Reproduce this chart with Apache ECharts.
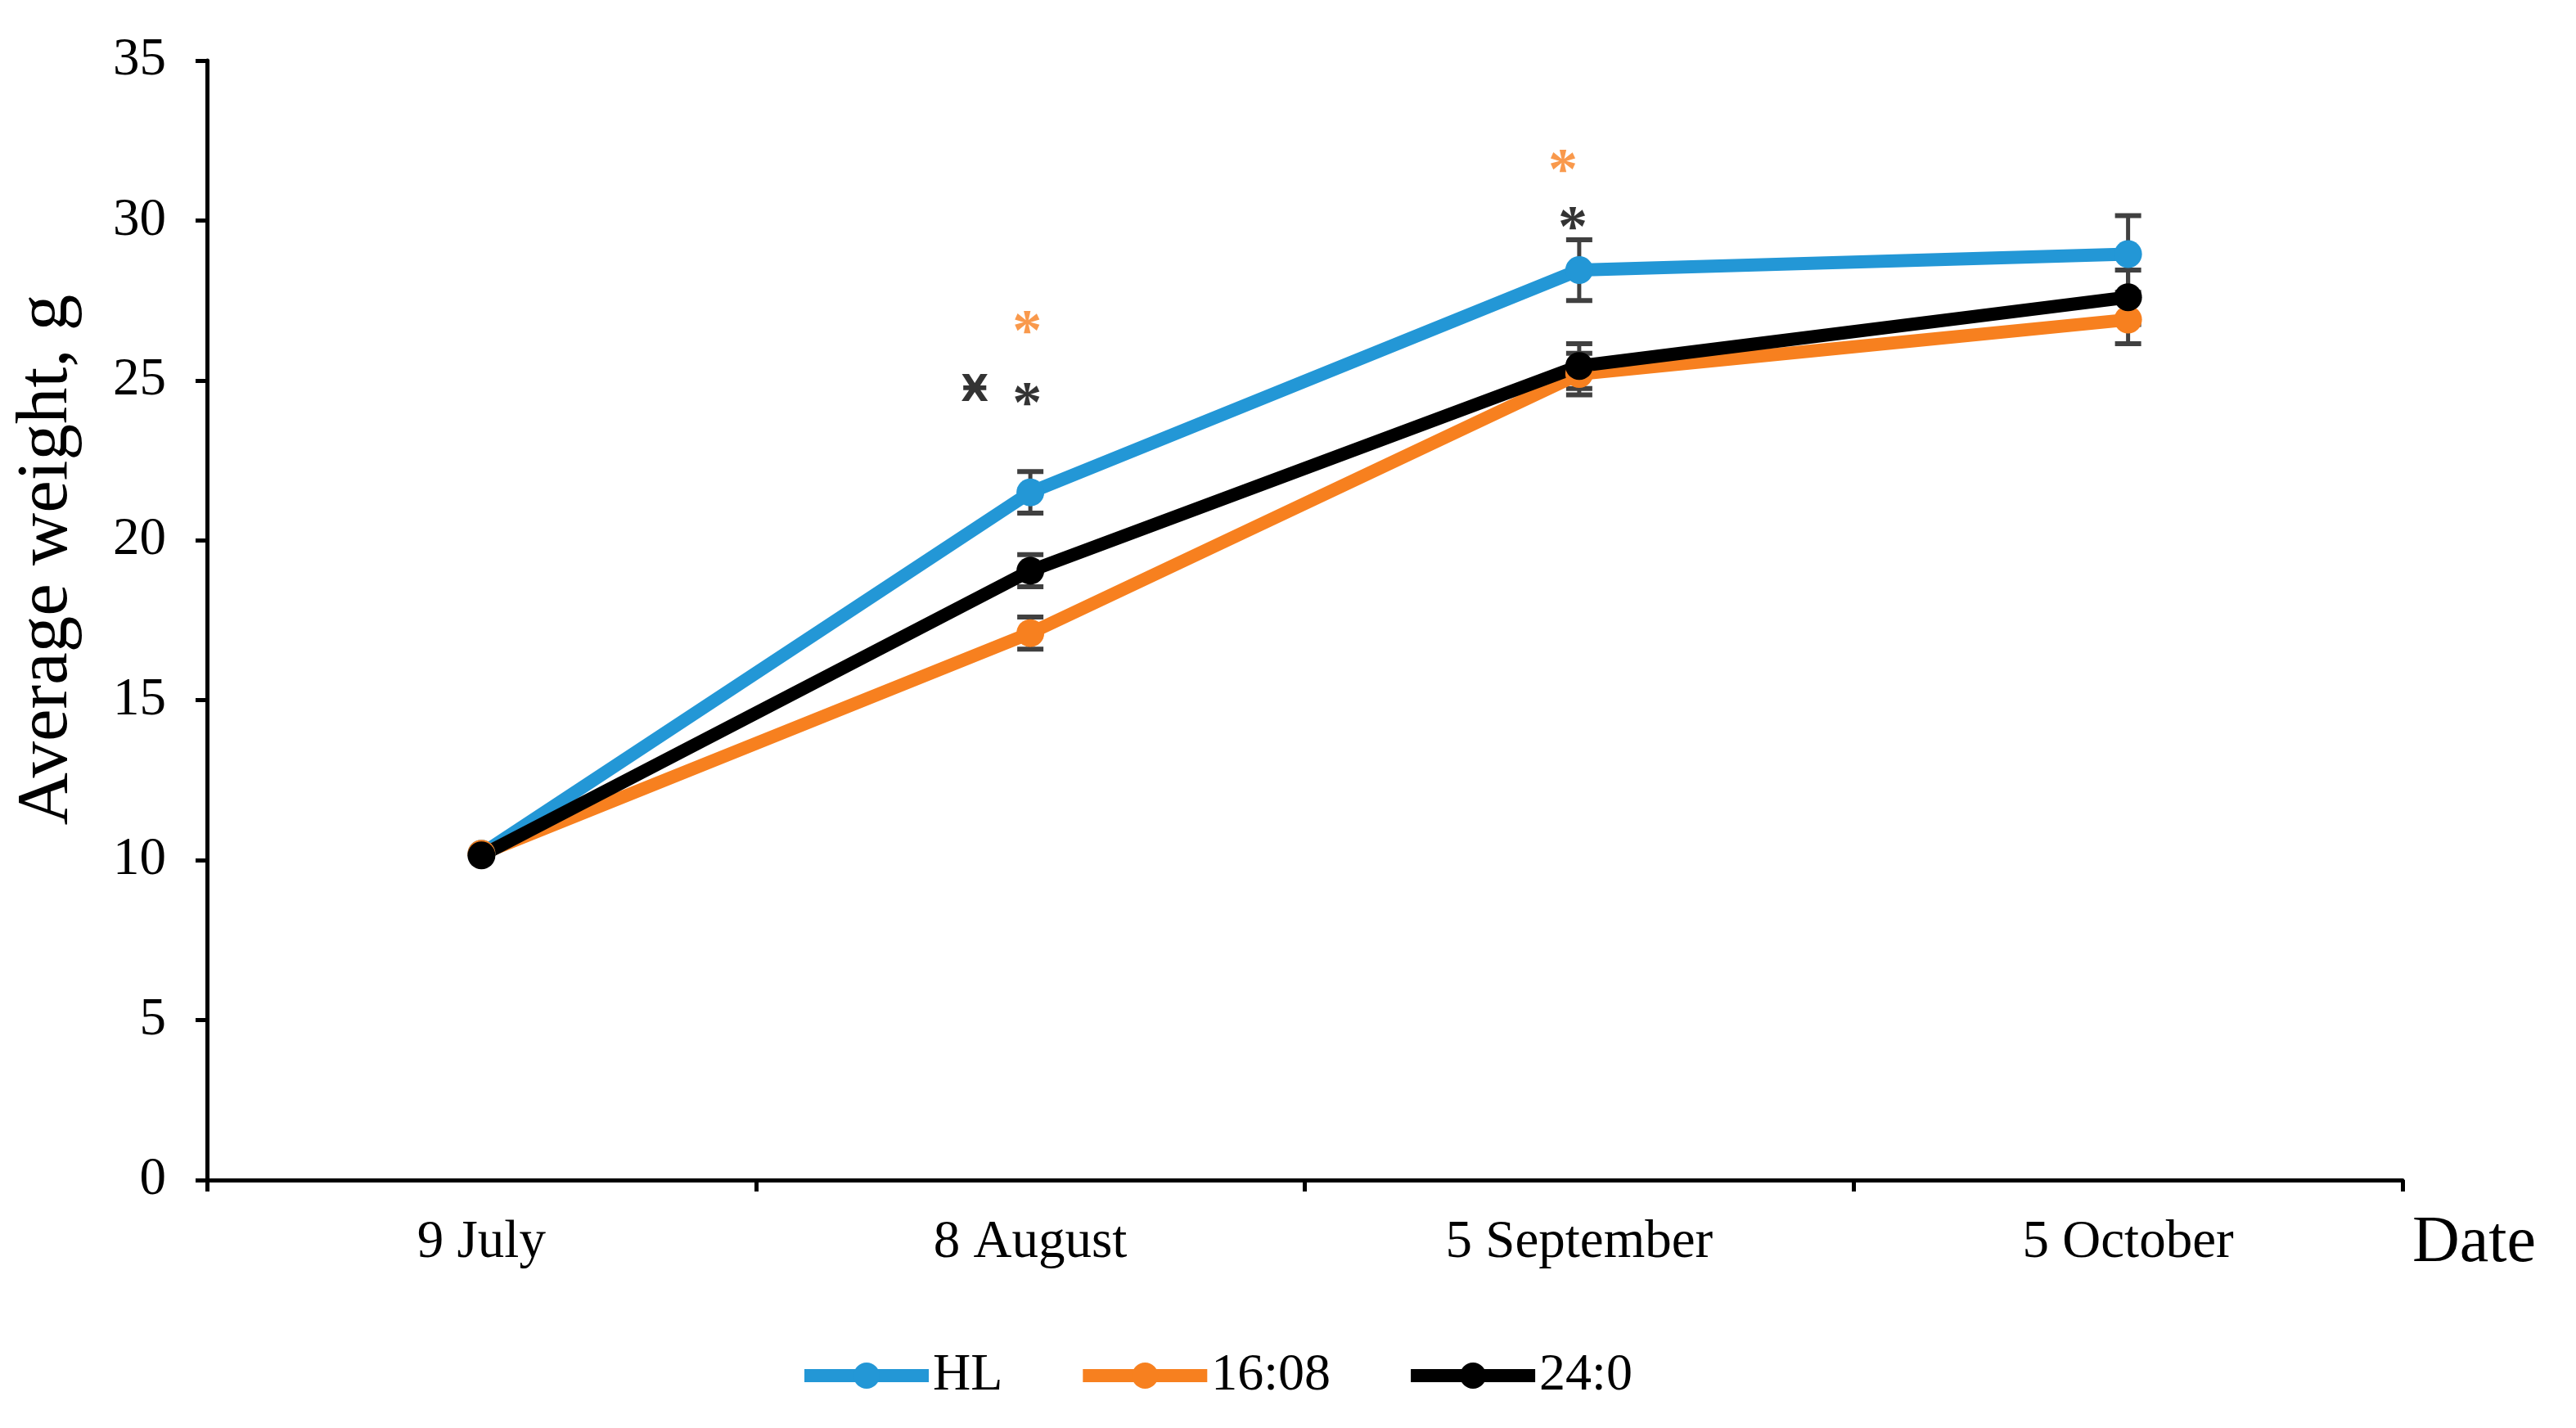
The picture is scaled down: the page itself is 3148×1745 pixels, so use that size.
<!DOCTYPE html>
<html>
<head>
<meta charset="utf-8">
<script src="https://cdn.jsdelivr.net/npm/echarts@6/dist/echarts.min.js"></script>
<style>
html,body{margin:0;padding:0;background:#fff;}
#c{width:3148px;height:1745px;}
</style>
</head>
<body>
<div id="c"></div>
<script>
const categories = ['9 July', '8 August', '5 September', '5 October'];
const yTicks = [0, 5, 10, 15, 20, 25, 30, 35];
const seriesNames = ['HL', '16:08', '24:0'];
const hlValues = [10.2, 21.5, 28.45, 28.95];
const v1608Values = [10.2, 17.1, 25.2, 26.9];
const v240Values = [10.15, 19.05, 25.45, 27.6];
const hlErrors = [0, 0.65, 0.95, 1.2];
const v1608Errors = [0, 0.5, 0.65, 0.75];
const v240Errors = [0, 0.5, 0.7, 0.85];
const annotCats = ['8 August', '8 August', '8 August', '5 September', '5 September'];
const annotValues = [26.8, 24.55, 24.65, 31.85, 30.05];
const annotTexts = ['*', '*', 'Ӿ', '*', '*'];
const annotGroup = ['16:08', '24:0', '24:0', '16:08', '24:0'];
const annotShift = [-4, -4, -68, -20, -8];

const colors = {'HL': '#2397d6', '16:08': '#f7801f', '24:0': '#000000'};
const FONT = 'Liberation Serif';

const chart = echarts.init(document.getElementById('c'), null, {renderer: 'canvas'});

function lineSeries(name, values) {
  return {
    name: name,
    type: 'line',
    data: values,
    symbol: 'circle',
    symbolSize: 34,
    lineStyle: {width: 16, color: colors[name]},
    itemStyle: {color: colors[name]},
    z: 3
  };
}

function errSeries(values, errors) {
  const d = values.map((v, i) => [i, v, errors[i]]).filter(r => r[2] > 0);
  return {
    type: 'custom',
    data: d,
    z: 2,
    silent: true,
    renderItem: function (params, api) {
      const x = api.value(0), v = api.value(1), e = api.value(2);
      const top = api.coord([x, v + e]);
      const bot = api.coord([x, v - e]);
      const hw = 16;
      const st = {stroke: '#404040', lineWidth: 5};
      const cap = {stroke: '#404040', lineWidth: 6};
      return {
        type: 'group',
        children: [
          {type: 'line', shape: {x1: top[0], y1: top[1], x2: bot[0], y2: bot[1]}, style: st},
          {type: 'line', shape: {x1: top[0] - hw, y1: top[1], x2: top[0] + hw, y2: top[1]}, style: cap},
          {type: 'line', shape: {x1: bot[0] - hw, y1: bot[1], x2: bot[0] + hw, y2: bot[1]}, style: cap}
        ]
      };
    }
  };
}

const annotData = annotCats.map((c, i) => {
  const star = annotTexts[i] === '*';
  return {
    value: [c, annotValues[i]],
    label: {
      show: true,
      formatter: annotTexts[i],
      color: colors[annotGroup[i]],
      fontFamily: star ? FONT : 'DejaVu Sans',
      fontSize: star ? 72 : 44,
      fontWeight: 'bold',
      position: 'inside',
      offset: star ? [annotShift[i], 14] : [annotShift[i], 0]
    }
  };
});

const option = {
  backgroundColor: '#ffffff',
  animation: false,
  grid: {left: 253, right: 212, top: 74, bottom: 303, containLabel: false},
  legend: {
    data: seriesNames,
    left: 970,
    top: 1644,
    itemWidth: 152,
    itemHeight: 40,
    itemGap: 90,
    lineStyle: {width: 16},
    textStyle: {fontFamily: FONT, fontSize: 64, color: '#000'}
  },
  xAxis: {
    type: 'category',
    data: categories,
    boundaryGap: true,
    axisLine: {lineStyle: {color: '#000', width: 5}},
    axisTick: {show: true, length: 14, lineStyle: {color: '#000', width: 5}},
    axisLabel: {fontFamily: FONT, fontSize: 65, color: '#000', margin: 44},
    splitLine: {show: false}
  },
  yAxis: {
    type: 'value',
    min: yTicks[0],
    max: yTicks[yTicks.length - 1],
    interval: 5,
    axisLine: {show: true, lineStyle: {color: '#000', width: 5}},
    axisTick: {show: true, length: 14, lineStyle: {color: '#000', width: 5}},
    axisLabel: {fontFamily: FONT, fontSize: 65, color: '#000', margin: 50},
    splitLine: {show: false}
  },
  graphic: [
    {
      type: 'text',
      x: 58, y: 684,
      rotation: Math.PI / 2,
      style: {text: 'Average weight, g', fontFamily: FONT, fontSize: 89, fill: '#000', align: 'center', verticalAlign: 'middle'}
    },
    {
      type: 'text',
      x: 2948, y: 1520,
      style: {text: 'Date', fontFamily: FONT, fontSize: 80, fill: '#000', align: 'left', verticalAlign: 'middle'}
    }
  ],
  series: [
    errSeries(hlValues, hlErrors),
    errSeries(v1608Values, v1608Errors),
    errSeries(v240Values, v240Errors),
    lineSeries('HL', hlValues),
    lineSeries('16:08', v1608Values),
    lineSeries('24:0', v240Values),
    {
      type: 'scatter',
      data: annotData,
      symbolSize: 1,
      itemStyle: {color: 'rgba(0,0,0,0)'},
      z: 5,
      silent: true
    }
  ]
};
chart.setOption(option);
</script>
</body>
</html>
